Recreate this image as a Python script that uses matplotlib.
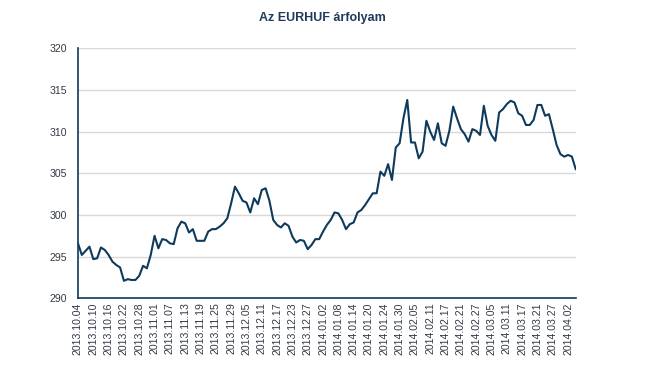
import matplotlib
matplotlib.use("Agg")
import matplotlib.pyplot as plt

title = "Az EURHUF árfolyam"

eurhuf = [
    296.6, 295.2, 295.7, 296.2, 294.7, 294.8, 296.1, 295.8, 295.2, 294.4,
    294.0, 293.7, 292.1, 292.3, 292.2, 292.2, 292.7, 293.9, 293.6, 295.2,
    297.5, 296.0, 297.1, 297.0, 296.6, 296.5, 298.4, 299.2, 299.0, 297.9,
    298.3, 296.9, 296.9, 296.9, 298.0, 298.3, 298.3, 298.6, 299.0, 299.6,
    301.4, 303.4, 302.6, 301.7, 301.5, 300.3, 302.0, 301.3, 303.0, 303.2,
    301.7, 299.4, 298.8, 298.5, 299.0, 298.7, 297.4, 296.7, 297.0, 296.9,
    295.9, 296.4, 297.1, 297.1, 298.0, 298.8, 299.4, 300.3, 300.2, 299.4,
    298.3, 298.9, 299.1, 300.3, 300.6, 301.2, 301.9, 302.6, 302.6, 305.2,
    304.7, 306.1, 304.2, 308.1, 308.6, 311.6, 313.8, 308.7, 308.7, 306.8,
    307.6, 311.3, 310.0, 309.0, 311.0, 308.6, 308.3, 310.1, 313.0, 311.6,
    310.3, 309.7, 308.8, 310.3, 310.1, 309.6, 313.1, 310.7, 309.6, 308.9,
    312.3, 312.7, 313.3, 313.7, 313.5, 312.2, 311.9, 310.8, 310.8, 311.4,
    313.2, 313.2, 311.9, 312.1, 310.3, 308.4, 307.3, 307.0, 307.2, 307.0,
    305.5,
]

tick_labels = [
    "2013.10.04", "2013.10.10", "2013.10.16", "2013.10.22", "2013.10.28",
    "2013.11.01", "2013.11.07", "2013.11.13", "2013.11.19", "2013.11.25",
    "2013.11.29", "2013.12.05", "2013.12.11", "2013.12.17", "2013.12.23",
    "2013.12.27", "2014.01.02", "2014.01.08", "2014.01.14", "2014.01.20",
    "2014.01.24", "2014.01.30", "2014.02.05", "2014.02.11", "2014.02.17",
    "2014.02.21", "2014.02.27", "2014.03.05", "2014.03.11", "2014.03.17",
    "2014.03.21", "2014.03.27", "2014.04.02",
]
tick_step = 4
y_ticks = [290, 295, 300, 305, 310, 315, 320]

navy = "#0e3a5c"
text_col = "#333a44"
fam = ["Liberation Sans", "DejaVu Sans"]

fig = plt.figure(figsize=(6.45, 3.65), dpi=100)
ax = fig.add_axes([0.1209, 0.1827, 0.7717, 0.685])

x = list(range(len(eurhuf)))
ax.plot(x, eurhuf, color=navy, linewidth=1.5, solid_joinstyle="round", zorder=3)

ax.set_xlim(0, len(eurhuf) - 1)
ax.set_ylim(290, 320)
ax.set_yticks(y_ticks)
ax.set_yticklabels([str(v) for v in y_ticks])
ax.set_xticks([i * tick_step for i in range(len(tick_labels))])
ax.set_xticklabels(tick_labels, rotation=90)
for lbl in ax.get_xticklabels() + ax.get_yticklabels():
    lbl.set_fontfamily(fam)
    lbl.set_fontsize(7.6)
    lbl.set_color(text_col)
ax.tick_params(axis="both", length=0)
ax.tick_params(axis="x", pad=3)
ax.tick_params(axis="y", pad=8)

ax.grid(axis="y", color="#d9d9d9", linewidth=1.0)
ax.set_axisbelow(True)
for s in ["top", "right"]:
    ax.spines[s].set_visible(False)
for s in ["left", "bottom"]:
    ax.spines[s].set_color(navy)
    ax.spines[s].set_linewidth(1.2)
    ax.spines[s].set_zorder(4)

fig.text(0.5, 0.95, title, ha="center", va="center", fontsize=9, fontweight="bold",
         color="#1f3a5a", fontfamily=fam)

fig.savefig("out.png", dpi=100)
